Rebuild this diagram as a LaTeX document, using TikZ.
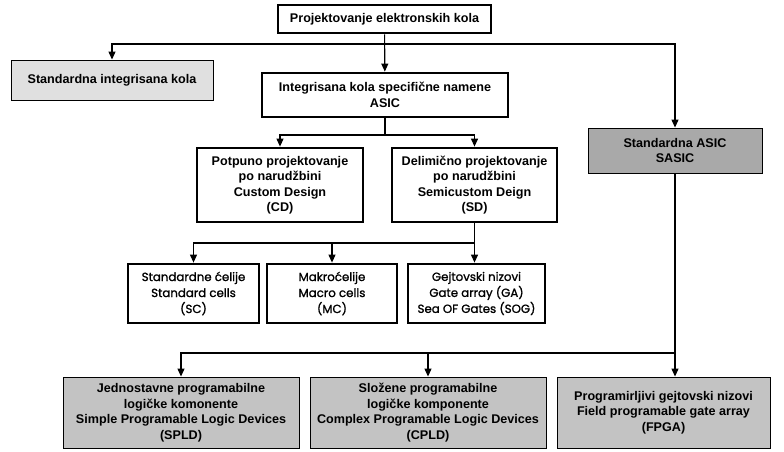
\documentclass[tikz,border=0pt]{standalone}
\usepackage{fontspec}
\setmainfont{Liberation Sans}
\newfontfamily\gothic{Poppins}[FakeBold=1.2]
\usetikzlibrary{arrows.meta}

\definecolor{lightbox}{HTML}{E0E0E0}
\definecolor{darkbox}{HTML}{A9A9A9}
\definecolor{midbox}{HTML}{C3C3C3}

\tikzset{
  box/.style={draw=black, line width=2.8pt, align=center, inner sep=0pt,
    font=\fontsize{12.6}{15.5}\selectfont\bfseries},
  graybox/.style={box, line width=0.9pt},
  cellbox/.style={box, font=\fontsize{11.8}{16}\selectfont\gothic},
  arr/.style={line width=1.1pt, -{Triangle[width=7pt,length=8pt]}},
  ln/.style={line width=1.1pt}
}

\begin{document}
\begin{tikzpicture}[x=1pt, y=-1pt]
\useasboundingbox (0,0) rectangle (784,451);

\node[box, minimum width=213pt, minimum height=28pt] (proj) at (384.5,19) {Projektovanje elektronskih kola};
\node[graybox, fill=lightbox, minimum width=202pt, minimum height=40pt] (sik) at (112,80) {Standardna integrisana kola};
\node[box, minimum width=246pt, minimum height=44pt] (asic) at (385,95) {Integrisana kola specifične namene\\ASIC};
\node[graybox, fill=darkbox, minimum width=174pt, minimum height=45pt] (sasic) at (675,150.5) {Standardna ASIC\\SASIC};

\node[box, minimum width=166pt, minimum height=74pt] (cd) at (280,185) {Potpuno projektovanje\\po narudžbini\\Custom Design\\(CD)};
\node[box, minimum width=165pt, minimum height=74pt] (sd) at (474.5,185) {Delimično projektovanje\\po narudžbini\\Semicustom Deign\\(SD)};

\node[cellbox, minimum width=131pt, minimum height=59pt] (sc) at (193.5,293.5) {Standardne ćelije\\Standard cells\\(SC)};
\node[cellbox, minimum width=130pt, minimum height=59pt] (mc) at (332,293.5) {Makroćelije\\Macro cells\\(MC)};
\node[cellbox, minimum width=137pt, minimum height=59pt] (ga) at (476.5,293.5) {Gejtovski nizovi\\Gate array (GA)\\Sea OF Gates (SOG)};

\node[graybox, fill=midbox, minimum width=236pt, minimum height=71pt] (spld) at (181,412.5) {Jednostavne programabilne\\logičke komonente\\Simple Programable Logic Devices\\(SPLD)};
\node[graybox, fill=midbox, minimum width=236pt, minimum height=71pt] (cpld) at (428,412.5) {Složene programabilne\\logičke komponente\\Complex Programable Logic Devices\\(CPLD)};
\node[graybox, fill=midbox, minimum width=213pt, minimum height=71pt] (fpga) at (663.5,412.5) {Programirljivi gejtovski nizovi\\Field programable gate array\\(FPGA)};

\coordinate (j1) at (384.5,44);
\coordinate (j2) at (385,135);
\coordinate (j3) at (474.5,243);
\coordinate (j4) at (675,353);

\draw[arr] (proj) -- (asic);
\draw[arr] (j1) -| (sik.north);
\draw[arr] (j1) -| (sasic.north);

\draw[ln] (asic) -- (j2);
\draw[arr] (j2) -| (cd.north);
\draw[arr] (j2) -| (sd.north);

\draw[arr] (sd.south) -- (sd.south |- ga.north);
\draw[arr] (j3) -| (sc.north);
\draw[arr] (j3) -| (mc.north);

\draw[arr] (sasic.south) -- (sasic.south |- fpga.north);
\draw[arr] (j4) -| (spld.north);
\draw[arr] (j4) -| (cpld.north);
\end{tikzpicture}
\end{document}
